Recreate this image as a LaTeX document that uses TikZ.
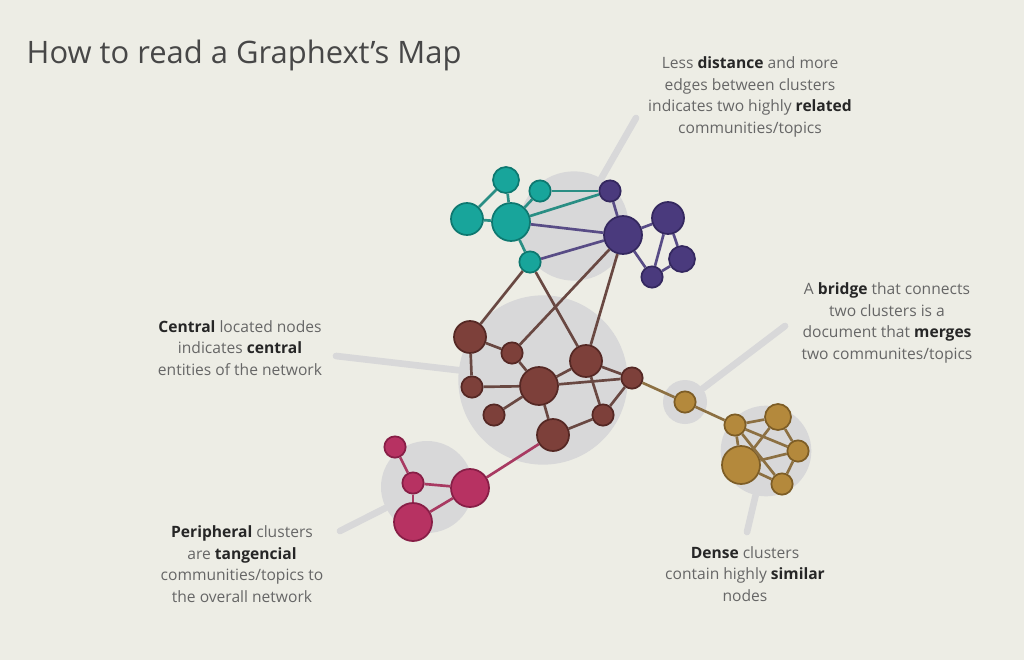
\documentclass[tikz,border=0pt]{standalone}
\usepackage{fontspec}
\setmainfont{Open Sans}
\usepackage{xcolor}
\usepackage{tikz}
\usetikzlibrary{positioning}
\definecolor{paper}{RGB}{237,237,229}
\definecolor{halogray}{RGB}{216,216,217}
\definecolor{tealfill}{RGB}{24,165,155}
\definecolor{tealline}{RGB}{14,120,112}
\definecolor{tealedge}{RGB}{42,142,132}
\definecolor{purplefill}{RGB}{74,58,125}
\definecolor{purpleline}{RGB}{52,40,95}
\definecolor{purpleedge}{RGB}{88,76,134}
\definecolor{brownfill}{RGB}{125,64,58}
\definecolor{brownline}{RGB}{85,40,36}
\definecolor{brownedge}{RGB}{105,72,66}
\definecolor{pinkfill}{RGB}{183,50,98}
\definecolor{pinkline}{RGB}{135,30,70}
\definecolor{pinkedge}{RGB}{168,58,98}
\definecolor{goldfill}{RGB}{180,137,60}
\definecolor{goldline}{RGB}{125,93,38}
\definecolor{goldedge}{RGB}{140,112,66}
\definecolor{bodytext}{RGB}{102,102,102}
\definecolor{boldtext}{RGB}{38,38,38}
\newcommand{\hl}[1]{\textbf{\color{boldtext}#1}}

\begin{document}
\begin{tikzpicture}[
    x=0.75pt, y=-0.75pt,
    note/.style={align=center, inner sep=0pt, text=bodytext, font=\fontsize{11.7}{16.2}\selectfont},
    halo/.style={circle, fill=halogray, inner sep=0pt},
    pointer/.style={draw=halogray, line width=5pt, line cap=round},
    dot/.style={circle, inner sep=0pt, line width=1.3pt},
    big/.style={dot, minimum size=28.5pt},
    mid/.style={dot, minimum size=24pt},
    med/.style={dot, minimum size=19.5pt},
    small/.style={dot, minimum size=16pt},
    tealnode/.style={fill=tealfill, draw=tealline},
    purplenode/.style={fill=purplefill, draw=purpleline},
    brownnode/.style={fill=brownfill, draw=brownline},
    pinknode/.style={fill=pinkfill, draw=pinkline},
    goldnode/.style={fill=goldfill, draw=goldline},
    link/.style={line width=2pt},
]
\useasboundingbox[fill=paper] (0,0) rectangle (1024,660);

\node[anchor=base west, text=black!72, font=\fontsize{23.2}{28}\selectfont] (title) at (22,64) {How to read a Graphext’s Map};

% halos and pointers
\node[halo, minimum size=82pt] (haloRelated) at (574,226) {};
\node[halo, minimum size=127pt] (haloCentral) at (543,380) {};
\node[halo, minimum size=69pt] (haloPeripheral) at (427,487) {};
\node[halo, minimum size=33pt] (haloBridge) at (685,402) {};
\node[halo, minimum size=68pt] (haloDense) at (766,451) {};

\coordinate (tipRelated) at (636,118);
\coordinate (tipCentral) at (336,356);
\coordinate (tipPeripheral) at (340,531);
\coordinate (tipBridge) at (785,326);
\coordinate (tipDense) at (747,532);
\draw[pointer] (haloRelated) -- (tipRelated);
\draw[pointer] (haloCentral) -- (tipCentral);
\draw[pointer] (haloPeripheral) -- (tipPeripheral);
\draw[pointer] (haloBridge) -- (tipBridge);
\draw[pointer] (haloDense) -- (tipDense);

% teal cluster
\node[med, tealnode] (t1) at (506,180) {};
\node[mid, tealnode] (t2) at (467,219) {};
\node[big, tealnode] (t3) at (511,222) {};
\node[small, tealnode] (t4) at (540,191) {};
\node[small, tealnode] (t5) at (530,262) {};
% purple cluster
\node[small, purplenode] (p1) at (610,191) {};
\node[big, purplenode] (p2) at (623,235) {};
\node[mid, purplenode] (p3) at (668,218) {};
\node[med, purplenode] (p4) at (682,259) {};
\node[small, purplenode] (p5) at (652,277) {};
% brown cluster
\node[mid, brownnode] (b1) at (470,337) {};
\node[small, brownnode] (b2) at (512,353) {};
\node[mid, brownnode] (b3) at (586,361) {};
\node[small, brownnode] (b4) at (472,387) {};
\node[big, brownnode] (b5) at (539,386) {};
\node[small, brownnode] (b6) at (632,378) {};
\node[small, brownnode] (b7) at (494,415) {};
\node[small, brownnode] (b8) at (603,415) {};
\node[mid, brownnode] (b9) at (553,435) {};
% pink cluster
\node[small, pinknode] (k1) at (395,447) {};
\node[small, pinknode] (k2) at (413,483) {};
\node[big, pinknode] (k3) at (470,488) {};
\node[big, pinknode] (k4) at (413,522) {};
% gold cluster
\node[small, goldnode] (g0) at (685,402) {};
\node[small, goldnode] (g1) at (735,425) {};
\node[med, goldnode] (g2) at (778,417) {};
\node[small, goldnode] (g3) at (798,451) {};
\node[big, goldnode] (g4) at (741,465) {};
\node[small, goldnode] (g5) at (782,484) {};

\foreach \a/\b in {t1/t2, t1/t3, t2/t3, t3/t4, t3/t5, t4/p1, t3/p1}
  \draw[link, tealedge] (\a) -- (\b);
\foreach \a/\b in {t3/p2, t5/p2, p1/p2, p2/p3, p3/p4, p3/p5, p4/p5, p2/p5}
  \draw[link, purpleedge] (\a) -- (\b);
\foreach \a/\b in {b1/t5, b3/t5, b2/p2, b3/p2, b1/b2, b1/b4, b2/b5, b4/b5, b5/b7, b5/b3, b5/b6, b5/b9, b3/b6, b3/b8, b6/b8, b9/b8}
  \draw[link, brownedge] (\a) -- (\b);
\foreach \a/\b in {b9/k3, k1/k2, k2/k3, k2/k4, k4/k3}
  \draw[link, pinkedge] (\a) -- (\b);
\foreach \a/\b in {b6/g0, g0/g1, g1/g2, g1/g3, g1/g4, g1/g5, g2/g3, g2/g4, g3/g4, g3/g5, g4/g5}
  \draw[link, goldedge] (\a) -- (\b);

% notes
\node[note] (related) at (750,97) {Less \hl{distance} and more\\edges between clusters\\indicates two highly \hl{related}\\communities/topics};
\node[note] (bridge) at (887,323) {A \hl{bridge} that connects\\two clusters is a\\document that \hl{merges}\\two communites/topics};
\node[note] (central) at (240,348) {\hl{Central} located nodes\\indicates \hl{central}\\entities of the network};
\node[note] (peripheral) at (242,564) {\hl{Peripheral} clusters\\are \hl{tangencial}\\communities/topics to\\the overall network};
\node[note] (dense) at (745,574) {\hl{Dense} clusters\\contain highly \hl{similar}\\nodes};
\end{tikzpicture}
\end{document}
